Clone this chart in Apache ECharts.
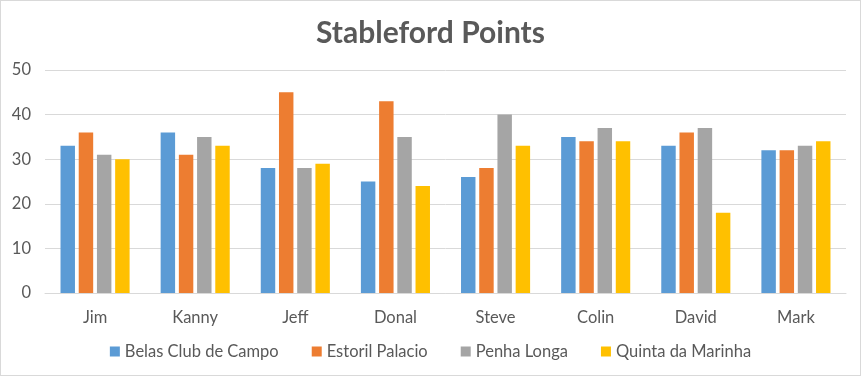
<!DOCTYPE html>
<html>
<head>
<meta charset="utf-8">
<script src="https://cdn.jsdelivr.net/npm/echarts@6/dist/echarts.min.js"></script>
<style>
  html, body { margin: 0; padding: 0; background: #fff; }
  #chart { width: 861px; height: 376px; box-sizing: border-box; border: 1px solid #d9d9d9; }
</style>
</head>
<body>
<div id="chart"></div>
<script>
const players = ["Jim", "Kanny", "Jeff", "Donal", "Steve", "Colin", "David", "Mark"]
const belas = [33, 36, 28, 25, 26, 35, 33, 32]
const estoril = [36, 31, 45, 43, 28, 34, 36, 32]
const penha = [31, 35, 28, 35, 40, 37, 37, 33]
const quinta = [30, 33, 29, 24, 33, 34, 18, 34]
const yTicks = [0, 10, 20, 30, 40, 50]

const font = "Lato, 'Open Sans', sans-serif"
const textColor = "#595959"

const chart = echarts.init(document.getElementById("chart"))

const bar = (name, data, color) => ({
  name: name,
  type: "bar",
  data: data,
  barGap: "26%",
  barCategoryGap: "31%",
  itemStyle: { color: color },
})

chart.setOption({
  animation: false,
  textStyle: { fontFamily: font },
  title: {
    text: "Stableford Points",
    left: "center",
    top: 12,
    textStyle: { fontFamily: font, fontSize: 30, fontWeight: "bold", color: textColor },
  },
  legend: {
    bottom: 10,
    left: "center",
    itemWidth: 10,
    itemHeight: 10,
    itemGap: 33,
    icon: "rect",
    textStyle: { fontFamily: font, fontSize: 16.5, color: textColor },
  },
  grid: { left: 44, right: 14, top: 69, bottom: 82 },
  xAxis: {
    type: "category",
    data: players,
    axisTick: { show: false },
    axisLine: { lineStyle: { color: "#d9d9d9" } },
    axisLabel: { color: textColor, fontSize: 16.5, margin: 16 },
  },
  yAxis: {
    type: "value",
    min: yTicks[0],
    max: yTicks[yTicks.length - 1],
    interval: 10,
    axisLine: { show: false },
    axisTick: { show: false },
    axisLabel: { color: textColor, fontSize: 16.5, margin: 14 },
    splitLine: { lineStyle: { color: "#d9d9d9" } },
  },
  series: [
    bar("Belas Club de Campo", belas, "#5B9BD5"),
    bar("Estoril Palacio", estoril, "#ED7D31"),
    bar("Penha Longa", penha, "#A5A5A5"),
    bar("Quinta da Marinha", quinta, "#FFC000"),
  ],
})
</script>
</body>
</html>
